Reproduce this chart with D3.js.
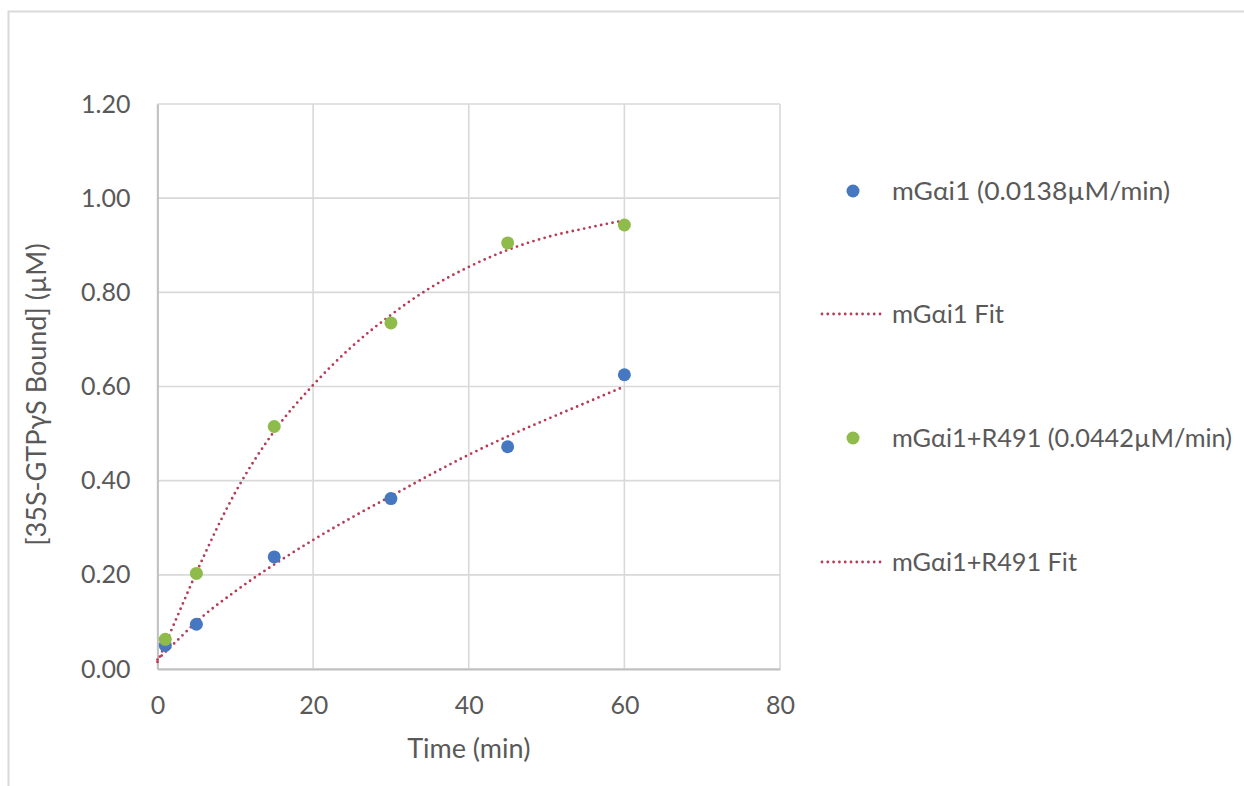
<!DOCTYPE html>
<html>
<head>
<meta charset="utf-8">
<script src="https://cdn.jsdelivr.net/npm/d3@7"></script>
<style>
  html, body { margin: 0; padding: 0; background: #fff; }
  svg { display: block; }
</style>
</head>
<body>
<svg id="chart" width="1244" height="786"></svg>
<script>
// Measured time points (min)
const times = [1, 5, 15, 30, 45, 60];
// [35S-GTPγS bound] (µM)
const mGai1 = [0.050, 0.095, 0.238, 0.362, 0.472, 0.625];
const mGai1R491 = [0.063, 0.203, 0.515, 0.735, 0.905, 0.943];

// Fitted curves, sampled along the time axis
const fitTimes = [0, 2.5, 5, 10, 15, 20, 25, 30, 35, 40, 45, 50, 55, 60];
const mGai1Fit = [0.02, 0.06, 0.10, 0.165, 0.222, 0.274, 0.322, 0.367, 0.412, 0.455, 0.494, 0.53, 0.565, 0.60];
const mGai1R491Fit = [0.015, 0.11, 0.205, 0.375, 0.505, 0.603, 0.685, 0.752, 0.809, 0.854, 0.89, 0.917, 0.936, 0.953];

const xTicks = [0, 20, 40, 60, 80];
const yTicks = [0, 0.2, 0.4, 0.6, 0.8, 1.0, 1.2];

const legendLabels = [
  "mGαi1 (0.0138µM/min)",
  "mGαi1 Fit",
  "mGαi1+R491 (0.0442µM/min)",
  "mGαi1+R491 Fit"
];

const BLUE = "#4677c1";
const GREEN = "#8fbb4a";
const FIT = "#b63c55";
const GRID = "#d9d9d9";
const TEXT = "#595959";
const FONT = "Lato, 'Open Sans', sans-serif";

const svg = d3.select("#chart");

// outer chart frame
svg.append("rect")
  .attr("x", 8.5).attr("y", 11.5)
  .attr("width", 1400).attr("height", 1000)
  .attr("fill", "none").attr("stroke", GRID).attr("stroke-width", 2);

const plot = { left: 157.5, right: 780, top: 104, bottom: 669 };

const x = d3.scaleLinear().domain([0, 80]).range([plot.left, plot.right]);
const y = d3.scaleLinear().domain([0, 1.2]).range([plot.bottom, plot.top]);

// gridlines
svg.append("g")
  .selectAll("line.v")
  .data(xTicks)
  .join("line")
  .attr("x1", d => x(d)).attr("x2", d => x(d))
  .attr("y1", plot.top).attr("y2", plot.bottom)
  .attr("stroke", GRID).attr("stroke-width", 1.6);

svg.append("g")
  .selectAll("line.h")
  .data(yTicks)
  .join("line")
  .attr("x1", plot.left).attr("x2", plot.right)
  .attr("y1", d => y(d)).attr("y2", d => y(d))
  .attr("stroke", GRID).attr("stroke-width", 1.6);

// axes
const xAxis = d3.axisBottom(x).tickValues(xTicks).tickSize(0).tickPadding(27)
  .tickFormat(d3.format("d"));
const gx = svg.append("g").attr("transform", `translate(0,${plot.bottom})`).call(xAxis);
gx.select(".domain").attr("stroke", "#bfbfbf").attr("stroke-width", 1.8);
gx.selectAll("text").attr("fill", TEXT).style("font-family", FONT).style("font-size", "25px");

const yAxis = d3.axisLeft(y).tickValues(yTicks).tickSize(0).tickPadding(27)
  .tickFormat(d3.format(".2f"));
const gy = svg.append("g").attr("transform", `translate(${plot.left},0)`).call(yAxis);
gy.select(".domain").attr("stroke", "#bfbfbf").attr("stroke-width", 1.8);
gy.selectAll("text").attr("fill", TEXT).style("font-family", FONT).style("font-size", "25px");

// axis titles
svg.append("text")
  .attr("x", (plot.left + plot.right) / 2).attr("y", 758)
  .attr("text-anchor", "middle")
  .attr("fill", TEXT).style("font-family", FONT).style("font-size", "27px")
  .text("Time (min)");

svg.append("text")
  .attr("transform", `translate(46,${(plot.top + plot.bottom) / 2 + 8}) rotate(-90)`)
  .attr("text-anchor", "middle")
  .attr("fill", TEXT).style("font-family", FONT).style("font-size", "27px")
  .text("[35S-GTPγS Bound] (µM)");

// fit curves
const line = d3.line()
  .x(d => x(d[0])).y(d => y(d[1]))
  .curve(d3.curveMonotoneX);

[mGai1Fit, mGai1R491Fit].forEach(vals => {
  svg.append("path")
    .datum(fitTimes.map((t, i) => [t, vals[i]]))
    .attr("d", line)
    .attr("fill", "none")
    .attr("stroke", FIT)
    .attr("stroke-width", 2.8)
    .attr("stroke-linecap", "round")
    .attr("stroke-dasharray", "0 5.8");
});

// data points
[[mGai1, BLUE], [mGai1R491, GREEN]].forEach(([vals, color]) => {
  svg.append("g")
    .selectAll("circle")
    .data(times.map((t, i) => [t, vals[i]]))
    .join("circle")
    .attr("cx", d => x(d[0])).attr("cy", d => y(d[1]))
    .attr("r", 6.5)
    .attr("fill", color);
});

// legend (label widths kept compact so the longest entry fits the frame)
const legendRows = [191, 314, 438, 562];
const legendWidths = [278, 112, 340, 185];
const legend = svg.append("g");
legendLabels.forEach((label, i) => {
  const cy = legendRows[i];
  if (i % 2 === 0) {
    legend.append("circle")
      .attr("cx", 853).attr("cy", cy).attr("r", 6.5)
      .attr("fill", i === 0 ? BLUE : GREEN);
  } else {
    legend.append("line")
      .attr("x1", 822).attr("x2", 882)
      .attr("y1", cy).attr("y2", cy)
      .attr("stroke", FIT).attr("stroke-width", 2.8)
      .attr("stroke-linecap", "round")
      .attr("stroke-dasharray", "0 5.8");
  }
  legend.append("text")
    .attr("x", 892).attr("y", cy)
    .attr("dy", "0.35em")
    .attr("textLength", legendWidths[i])
    .attr("lengthAdjust", "spacingAndGlyphs")
    .attr("fill", TEXT).style("font-family", FONT).style("font-size", "25.5px")
    .text(label);
});
</script>
</body>
</html>
